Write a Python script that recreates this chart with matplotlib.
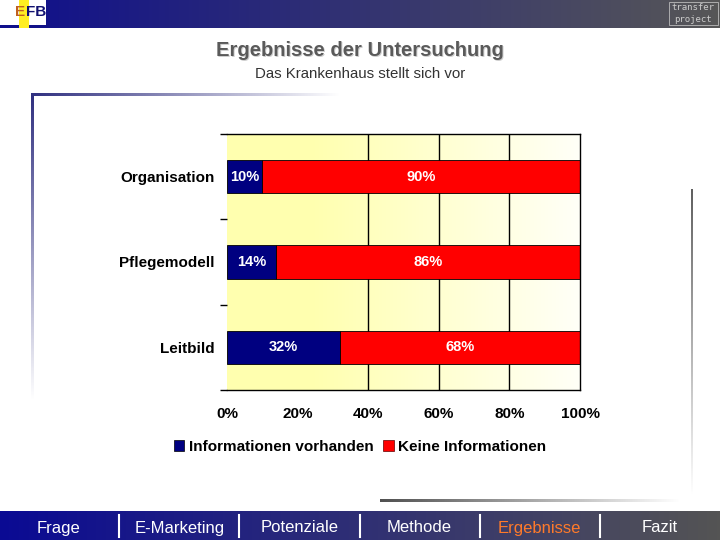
import numpy as np
import matplotlib
matplotlib.use('Agg')
import matplotlib.pyplot as plt
from matplotlib.patches import Rectangle, Patch

plt.rcParams['font.family'] = ['Liberation Sans', 'DejaVu Sans']

# data
categories = ['Organisation', 'Pflegemodell', 'Leitbild']
info_vorhanden = [10, 14, 32]
keine_info = [90, 86, 68]
series_names = ['Informationen vorhanden', 'Keine Informationen']
x_ticks = [0, 20, 40, 60, 80, 100]
nav_items = ['Frage', 'E-Marketing', 'Potenziale', 'Methode', 'Ergebnisse', 'Fazit']
nav_active = 'Ergebnisse'

NAVY = '#000080'
RED = '#ff0000'


def gradient(ax, x0, x1, y0, y1, c0, c1, horizontal=True, n=256, z=1):
    c0 = np.array(matplotlib.colors.to_rgb(c0))
    c1 = np.array(matplotlib.colors.to_rgb(c1))
    t = np.linspace(0, 1, n)[:, None]
    cols = c0 + (c1 - c0) * t
    img = cols[None, :, :] if horizontal else cols[:, None, :]
    ax.imshow(img, extent=(x0, x1, y1, y0), aspect='auto', zorder=z,
              interpolation='bilinear')


fig = plt.figure(figsize=(7.2, 5.4), dpi=100)

# slide layer in pixel coords
bg = fig.add_axes([0, 0, 1, 1])
bg.set_xlim(0, 720)
bg.set_ylim(540, 0)
bg.axis('off')

# header bar
gradient(bg, 0, 720, 0, 28, (0.06, 0.06, 0.55), (0.34, 0.34, 0.34))
bg.add_patch(Rectangle((0, 0), 46, 25, fc='white', ec='none', zorder=2))
bg.add_patch(Rectangle((19, 0), 10, 28, fc='#ffee22', ec='none', zorder=2))
bg.text(20, 12, 'E', color='#c06020', fontsize=11, fontweight='bold',
        ha='center', va='center', zorder=3)
bg.text(36, 12, 'FB', color='#101070', fontsize=11, fontweight='bold',
        ha='center', va='center', zorder=3)
bg.add_patch(Rectangle((669, 2), 49, 23, fc='none', ec='#bbbbbb', lw=0.6, zorder=2))
bg.text(693, 8, 'transfer', color='#cccccc', fontsize=6.5, family='DejaVu Sans Mono',
        ha='center', va='center', zorder=3)
bg.text(693, 19, 'project', color='#cccccc', fontsize=6.5, family='DejaVu Sans Mono',
        ha='center', va='center', zorder=3)

# title
bg.text(360.8, 51.8, 'Ergebnisse der Untersuchung', color='#cfcfcf', fontsize=14.5,
        fontweight='bold', ha='center', va='center', zorder=2)
bg.text(360, 51, 'Ergebnisse der Untersuchung', color='#5a5a5a', fontsize=14.5,
        fontweight='bold', ha='center', va='center', zorder=3)
bg.text(360, 74, 'Das Krankenhaus stellt sich vor', color='#333333', fontsize=10.8,
        ha='center', va='center', zorder=3)

# decorative frame lines
gradient(bg, 31, 340, 94, 96.5, '#303080', 'white')
gradient(bg, 31, 33.5, 94, 400, '#303080', 'white', horizontal=False)
gradient(bg, 691, 693, 189, 495, '#606060', 'white', horizontal=False)
gradient(bg, 380, 680, 500, 502.5, '#505050', 'white')

# footer nav bar
gradient(bg, 0, 720, 511, 540, (0.04, 0.04, 0.58), (0.33, 0.33, 0.33))
nav_x = np.linspace(59, 660, len(nav_items))
for i, (x, name) in enumerate(zip(nav_x, nav_items)):
    col = '#ff7a2a' if name == nav_active else 'white'
    bg.text(x, 528, name, color=col, fontsize=12, ha='center', va='center', zorder=3)
    if i < len(nav_items) - 1:
        sx = (x + nav_x[i + 1]) / 2
        bg.plot([sx, sx], [515, 537], color='white', lw=1.5, zorder=3)

# chart
ax = fig.add_axes([227 / 720, 1 - 390 / 540, 353 / 720, 256 / 540])
ypos = np.arange(len(categories))
yel = (1.0, 1.0, 0.69)
t = np.linspace(0, 1, 256)
ramp = np.clip((t - 0.25) / 0.75, 0, 1)[:, None]
cols = np.array(yel) + (np.array([1.0, 1.0, 0.97]) - np.array(yel)) * ramp
ax.imshow(cols[None, :, :], extent=(0, 100, 2.5, -0.5), aspect='auto', zorder=0)
ax.vlines([40, 60, 80], -0.5, 2.5, color='black', lw=1, zorder=1)

h = 0.39
ax.barh(ypos, info_vorhanden, height=h, color=NAVY, edgecolor='black', lw=0.6, zorder=2)
ax.barh(ypos, keine_info, left=info_vorhanden, height=h, color=RED, edgecolor='black',
        lw=0.6, zorder=2)
for y, a, b in zip(ypos, info_vorhanden, keine_info):
    ax.text(a / 2, y, f'{a}%', color='white', fontsize=10.5, fontweight='bold',
            ha='center', va='center', zorder=3)
    ax.text(a + b / 2, y, f'{b}%', color='white', fontsize=10.5, fontweight='bold',
            ha='center', va='center', zorder=3)

ax.set_xlim(0, 100)
ax.set_ylim(2.5, -0.5)
ax.set_yticks(ypos)
ax.set_yticklabels(categories, fontsize=11, fontweight='bold')
ax.set_yticks([-0.5, 0.5, 1.5, 2.5], minor=True)
ax.tick_params(axis='y', which='major', length=0, pad=9)
ax.tick_params(axis='y', which='minor', length=5, width=1, direction='out')
ax.set_xticks(x_ticks)
ax.set_xticklabels([f'{v}%' for v in x_ticks], fontsize=11, fontweight='bold')
ax.tick_params(axis='x', length=0, pad=12.5)
ax.spines['left'].set_visible(False)
for s in ['top', 'bottom', 'right']:
    ax.spines[s].set_linewidth(1)

handles = [Patch(fc=NAVY, ec='black', lw=0.5), Patch(fc=RED, ec='#600000', lw=0.5)]
fig.legend(handles, series_names, loc='center', bbox_to_anchor=(360 / 720, 1 - 447 / 540),
           ncol=2, frameon=False, handlelength=0.7, handleheight=0.7, handletextpad=0.3,
           columnspacing=0.6, prop={'size': 11, 'weight': 'bold'})

fig.savefig('out.png', dpi=100)
